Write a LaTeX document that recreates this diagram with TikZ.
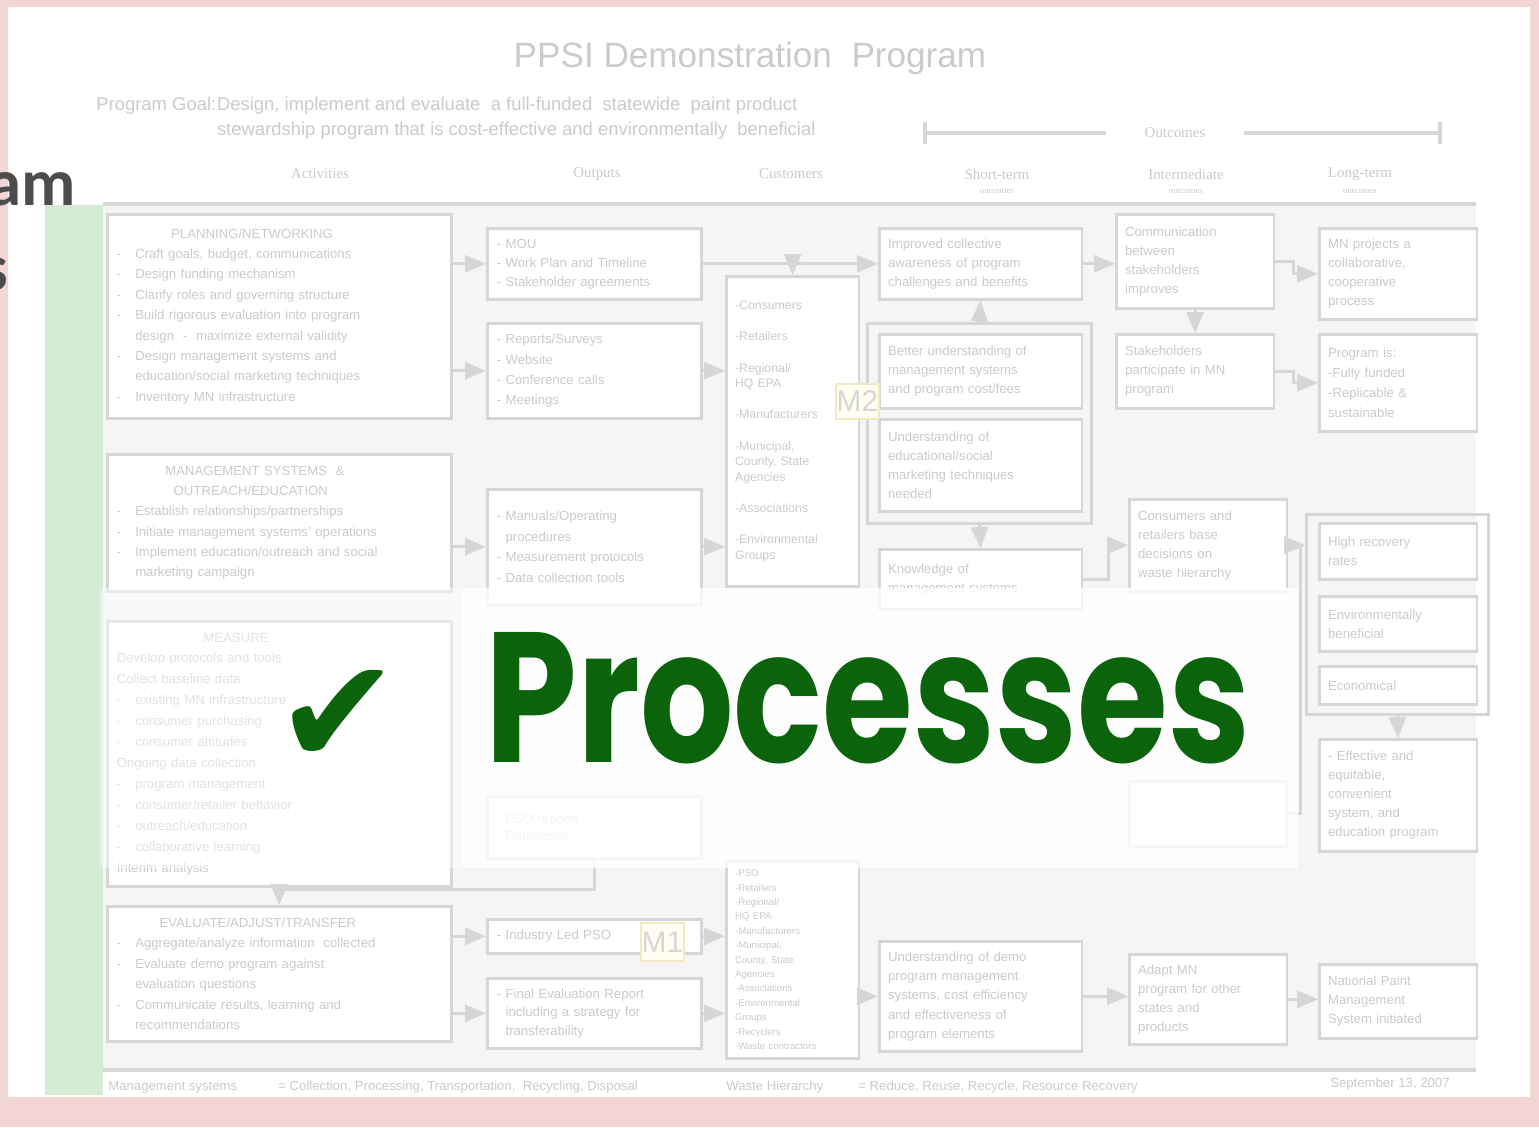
\documentclass[tikz,border=0pt]{standalone}
\usepackage{graphicx}
\usepackage{fontspec}
\setmainfont{Liberation Sans}
\newfontfamily\hdrfont{Liberation Serif}
\newfontfamily\amfont{Carlito}
\newfontfamily\procfont{Poppins}
\newfontfamily\chkfont{DejaVu Sans}
\usetikzlibrary{arrows}
\definecolor{pinkframe}{HTML}{F3D5D5}
\definecolor{boxline}{HTML}{D6D6D6}
\definecolor{boxtext}{HTML}{CBCBCB}
\definecolor{bargreen}{HTML}{D3ECD3}
\definecolor{procgreen}{HTML}{0B640B}
\definecolor{mlabel}{HTML}{EFE9C4}
\definecolor{slidegray}{HTML}{F5F5F5}
\newcommand{\dsh}{\makebox[1.4em][l]{-}}
\newcommand{\indt}{\hspace*{1.4em}}
\newcommand{\ttl}[1]{\hfil#1\hfil\null\\}

\begin{document}
\begin{tikzpicture}[x=0.02cm,y=-0.02cm]
\tikzstyle{bx}=[draw=boxline,line width=1.5pt,fill=white,anchor=north west,align=left,inner xsep=5pt,inner ysep=3pt,text=boxtext,font=\fontsize{7.5}{11.6}\selectfont]
\tikzstyle{grp}=[draw=boxline,line width=1.5pt,anchor=north west]
\tikzstyle{cn}=[draw=boxline,line width=1.8pt,-triangle 45]
\tikzstyle{mk}=[draw=mlabel,line width=1pt,fill=white!94!yellow,anchor=north west,inner sep=0pt,text=boxline,font=\fontsize{17}{17}\selectfont]
\tikzstyle{hdr}=[text=boxtext,font=\hdrfont\fontsize{8.5}{9}\selectfont]
\tikzstyle{foot}=[anchor=west,text=boxtext,inner sep=0pt,font=\fontsize{7.5}{9}\selectfont]
\useasboundingbox (0,0) rectangle (1539,1127);
\clip (0,0) rectangle (1539,1127);
\fill[pinkframe] (0,0) rectangle (1539,1127);
\fill[white] (8,7) rectangle (1530,1097);
\fill[bargreen] (45,205) rectangle (103,1095);
\fill[slidegray] (103,206) rectangle (1476,1068);
\draw[boxline,line width=2.5pt] (103,204) -- (1476,204);
\draw[boxline,line width=2.5pt] (103,1070) -- (1476,1070);

% title and goal
\node[text=boxtext,font=\fontsize{20}{24}\selectfont] (title) at (750,58) {PPSI Demonstration\ \ Program};
\node[anchor=west,text=boxtext,font=\fontsize{10.5}{12}\selectfont,inner sep=0pt] (goallbl) at (96,106) {Program Goal:};
\node[anchor=north west,align=left,text=boxtext,font=\fontsize{10.5}{14.2}\selectfont,inner sep=0pt] (goal) at (goallbl.north east) {Design, implement and evaluate\ \ a full-funded\ \ statewide\ \ paint product\\stewardship program that is cost-effective and environmentally\ \ beneficial};

% outcomes bracket
\coordinate (ocl) at (925,133);
\coordinate (ocr) at (1440,133);
\node[hdr,inner xsep=22pt] (oc) at (1175,133) {Outcomes};
\draw[boxline,line width=2pt] (ocl) -- (oc.west);
\draw[boxline,line width=2pt] (oc.east) -- (ocr);
\draw[boxline,line width=2pt] (ocl) ++(0,-11) -- ++(0,22);
\draw[boxline,line width=2pt] (ocr) ++(0,-11) -- ++(0,22);

% column headers
\node[hdr] (hact) at (320,174) {Activities};
\node[hdr] (hout) at (597,174) {Outputs};
\node[hdr] (hcus) at (791,174) {Customers};
\node[hdr] (hst) at (997,174) {Short-term};
\node[hdr,font=\hdrfont\fontsize{5}{6}\selectfont] (hst2) at (997,191) {outcomes};
\node[hdr] (hint) at (1186,174) {Intermediate};
\node[hdr,font=\hdrfont\fontsize{5}{6}\selectfont] (hint2) at (1186,191) {outcomes};
\node[hdr] (hlt) at (1360,174) {Long-term};
\node[hdr,font=\hdrfont\fontsize{5}{6}\selectfont] (hlt2) at (1360,191) {outcomes};

% activities
\node[bx,minimum width=6.88cm,minimum height=4.08cm,text width=6.5cm] (plan) at (106,213) {\ttl{PLANNING/NETWORKING}\dsh Craft goals, budget, communications\\\dsh Design funding mechanism\\\dsh Clarify roles and governing structure\\\dsh Build rigorous evaluation into program\\\indt design\ \ -\ \ maximize external validity\\\dsh Design management systems and\\\indt education/social marketing techniques\\\dsh Inventory MN infrastructure};
\node[bx,minimum width=6.88cm,minimum height=2.74cm,text width=6.5cm] (mgmt) at (106,453) {\ttl{MANAGEMENT SYSTEMS\ \ \&}\ttl{OUTREACH/EDUCATION}\dsh Establish relationships/partnerships\\\dsh Initiate management systems' operations\\\dsh Implement education/outreach and social\\\indt marketing campaign};
\node[bx,minimum width=6.88cm,minimum height=5.3cm,text width=6.5cm,font=\fontsize{7.5}{11.9}\selectfont] (meas) at (106,620) {\ttl{MEASURE}Develop protocols and tools\\Collect baseline data\\\dsh existing MN infrastructure\\\dsh consumer purchasing\\\dsh consumer attitudes\\Ongoing data collection\\\dsh program management\\\dsh consumer/retailer behavior\\\dsh outreach/education\\\dsh collaborative learning\\Interim analysis};
\node[bx,minimum width=6.88cm,minimum height=2.7cm,text width=6.5cm] (eval) at (106,905) {\ttl{EVALUATE/ADJUST/TRANSFER}\dsh Aggregate/analyze information\ \ collected\\\dsh Evaluate demo program against\\\indt evaluation questions\\\dsh Communicate results, learning and\\\indt recommendations};

% outputs
\node[bx,minimum width=4.28cm,minimum height=1.42cm,text width=3.9cm,font=\fontsize{7.5}{10.8}\selectfont] (out1) at (486,227) {- MOU\\- Work Plan and Timeline\\- Stakeholder agreements};
\node[bx,minimum width=4.28cm,minimum height=1.9cm,text width=3.9cm] (out2) at (486,322) {- Reports/Surveys\\- Website\\- Conference calls\\- Meetings};
\node[bx,minimum width=4.28cm,minimum height=2.3cm,text width=3.9cm] (out3) at (486,488) {- Manuals/Operating\\\ \ procedures\\- Measurement protocols\\- Data collection tools};
\node[bx,minimum width=4.28cm,minimum height=1.24cm,text width=3.9cm,font=\fontsize{7.5}{10}\selectfont] (out4) at (486,795) {- PSO reports\\- Databases};
\node[bx,minimum width=4.28cm,minimum height=0.68cm,text width=3.9cm] (outb1) at (486,918) {- Industry Led PSO};
\node[bx,minimum width=4.28cm,minimum height=1.4cm,text width=3.9cm,font=\fontsize{7.5}{10.5}\selectfont] (outb2) at (486,977) {- Final Evaluation Report\\\ \ including a strategy for\\\ \ transferability};

% customers
\node[bx,minimum width=2.6cm,minimum height=6.2cm,text width=2.3cm,font=\fontsize{7}{8.8}\selectfont] (cust1) at (725,275) {-Consumers\\[9pt]-Retailers\\[9pt]-Regional/\\HQ EPA\\[9pt]-Manufacturers\\[9pt]-Municipal,\\County, State\\Agencies\\[9pt]-Associations\\[9pt]-Environmental\\Groups};
\node[bx,minimum width=2.6cm,minimum height=3.94cm,text width=2.3cm,font=\fontsize{5.5}{8.2}\selectfont] (cust2) at (725,860) {-PSO\\-Retailers\\-Regional/\\HQ EPA\\-Manufacturers\\-Municipal,\\County, State\\Agencies\\-Associations\\-Environmental\\Groups\\-Recyclers\\-Waste contractors};

% short-term outcomes
\node[grp,minimum width=4.48cm,minimum height=4cm] (stgrp) at (866,322) {};
\node[bx,minimum width=4.04cm,minimum height=1.42cm,text width=3.7cm,font=\fontsize{7.5}{10.8}\selectfont] (st1) at (878,227) {Improved collective\\awareness of program\\challenges and benefits};
\node[bx,minimum width=4.04cm,minimum height=1.48cm,text width=3.7cm,font=\fontsize{7.5}{10.8}\selectfont] (st2) at (878,333) {Better understanding of\\management systems\\and program cost/fees};
\node[bx,minimum width=4.04cm,minimum height=1.84cm,text width=3.7cm,font=\fontsize{7.5}{10.8}\selectfont] (st3) at (878,418) {Understanding of\\educational/social\\marketing techniques\\needed};
\node[bx,minimum width=4.04cm,minimum height=1.2cm,text width=3.7cm,font=\fontsize{7.5}{10.8}\selectfont] (st4) at (878,548) {Knowledge of\\management systems};
\node[bx,minimum width=4.04cm,minimum height=2.2cm,text width=3.7cm,font=\fontsize{7.5}{11}\selectfont] (st5) at (878,940) {Understanding of demo\\program management\\systems, cost efficiency\\and effectiveness of\\program elements};

% intermediate outcomes
\node[bx,minimum width=3.14cm,minimum height=1.88cm,text width=2.8cm,font=\fontsize{7.5}{10.8}\selectfont] (int1) at (1115,213) {Communication\\between\\stakeholders\\improves};
\node[bx,minimum width=3.14cm,minimum height=1.48cm,text width=2.8cm,font=\fontsize{7.5}{10.8}\selectfont] (int2) at (1115,333) {Stakeholders\\participate in MN\\program};
\node[bx,minimum width=3.1cm,minimum height=1.84cm,text width=2.8cm,font=\fontsize{7.5}{10.8}\selectfont] (int3) at (1128,498) {Consumers and\\retailers base\\decisions on\\waste hierarchy};
\node[bx,minimum width=3.1cm,minimum height=1.3cm,text width=2.8cm] (int4) at (1128,780) {};
\node[bx,minimum width=3.1cm,minimum height=1.8cm,text width=2.8cm,font=\fontsize{7.5}{10.8}\selectfont] (int5) at (1128,953) {Adapt MN\\program for other\\states and\\products};

% long-term outcomes
\node[bx,minimum width=3.14cm,minimum height=1.82cm,text width=2.8cm,font=\fontsize{7.5}{10.8}\selectfont] (lt1) at (1318,227) {MN projects a\\collaborative,\\cooperative\\process};
\node[bx,minimum width=3.14cm,minimum height=1.94cm,text width=2.8cm,font=\fontsize{7.5}{11.5}\selectfont] (lt2) at (1318,333) {Program is:\\-Fully funded\\-Replicable \&\\sustainable};
\node[grp,minimum width=3.64cm,minimum height=4cm] (ltgrp) at (1305,513) {};
\node[bx,minimum width=3.14cm,minimum height=1.12cm,text width=2.8cm,font=\fontsize{7.5}{10.8}\selectfont] (lt3) at (1318,522) {High recovery\\rates};
\node[bx,minimum width=3.14cm,minimum height=1.1cm,text width=2.8cm,font=\fontsize{7.5}{10.8}\selectfont] (lt4) at (1318,595) {Environmentally\\beneficial};
\node[bx,minimum width=3.14cm,minimum height=0.76cm,text width=2.8cm] (lt5) at (1318,665) {Economical};
\node[bx,minimum width=3.14cm,minimum height=2.24cm,text width=2.8cm,font=\fontsize{7.5}{10.8}\selectfont] (lt6) at (1318,738) {- Effective and\\equitable,\\convenient\\system, and\\education program};
\node[bx,minimum width=3.14cm,minimum height=1.48cm,text width=2.8cm,font=\fontsize{7.5}{10.8}\selectfont] (lt7) at (1318,963) {National Paint\\Management\\System initiated};

% markers
\node[mk,minimum width=0.86cm,minimum height=0.7cm] (m2) at (835,383) {M2};
\node[mk,minimum width=0.86cm,minimum height=0.76cm] (m1) at (640,922) {M1};

% connectors
\draw[cn] (plan.east |- out1.west) -- (out1.west);
\draw[cn] (plan.east |- out2.west) -- (out2.west);
\draw[cn] (mgmt.east |- out3.west) -- (out3.west);
\draw[cn] (out4.south) -- ++(0,30) -| (eval.north);
\draw[cn] (out1.east) -- (st1.west);
\draw[cn] (out1.east -| cust1.north) -- (cust1.north);
\draw[cn] (out2.east) -- (out2.east -| cust1.west);
\draw[cn] (out3.east) -- (out3.east -| cust1.west);
\draw[cn] (stgrp.north) -- (st1.south);
\draw[cn] (stgrp.south) -- (st4.north);
\draw[cn] (st1.east) -- (st1.east -| int1.west);
\draw[cn] (int1.south) -- (int2.north);
\draw[cn] (int1.east) -- ++(18,0) |- (lt1.west);
\draw[cn] (int2.east) -- ++(18,0) |- (lt2.west);
\draw[cn] (st4.east) -- ++(25,0) |- (int3.west);
\draw[cn] (int3.east) -- (int3.east -| ltgrp.west);
\draw[cn] (int4.east) -- ++(12,0) |- (ltgrp.west |- int3.east);
\draw[cn] (ltgrp.south) -- (lt6.north);
\draw[cn] (cust2.east |- st5.west) -- (st5.west);
\draw[cn] (st5.east) -- (st5.east -| int5.west);
\draw[cn] (int5.east) -- (int5.east -| lt7.west);
\draw[cn] (eval.east |- outb1.west) -- (outb1.west);
\draw[cn] (eval.east |- outb2.west) -- (outb2.west);
\draw[cn] (outb1.east) -- (outb1.east -| cust2.west);
\draw[cn] (outb2.east) -- (outb2.east -| cust2.west);

% footer
\node[foot] (f1) at (108,1087) {Management systems};
\node[foot] (f2) at (278,1087) {= Collection, Processing, Transportation,\ \ Recycling, Disposal};
\node[foot] (f3) at (726,1087) {Waste Hierarchy};
\node[foot] (f4) at (858,1087) {= Reduce, Reuse, Recycle, Resource Recovery};
\node[foot,anchor=east] (f5) at (1450,1084) {September 13, 2007};

% overlay
\fill[white,opacity=0.45] (100,588) rectangle (462,868);
\fill[white,opacity=0.8] (462,588) rectangle (1298,868);
\node[anchor=base east,inner sep=0pt,text=black!70,font=\amfont\bfseries\fontsize{38}{38}\selectfont] (amfrag) at (76,205) {ram};
\node[anchor=base east,inner sep=0pt,text=black!70,font=\amfont\bfseries\fontsize{38}{38}\selectfont] (sfrag) at (8,290) {s};
\node[anchor=south west,inner sep=0pt,text=procgreen] (tick) at (275,765) {\resizebox{2.5cm}{!}{\chkfont ✔}};
\node[anchor=base west,inner sep=0pt,text=procgreen] (proc) at (485,762) {\resizebox{15.3cm}{2.6cm}{\procfont\bfseries Processes}};
\end{tikzpicture}
\end{document}
